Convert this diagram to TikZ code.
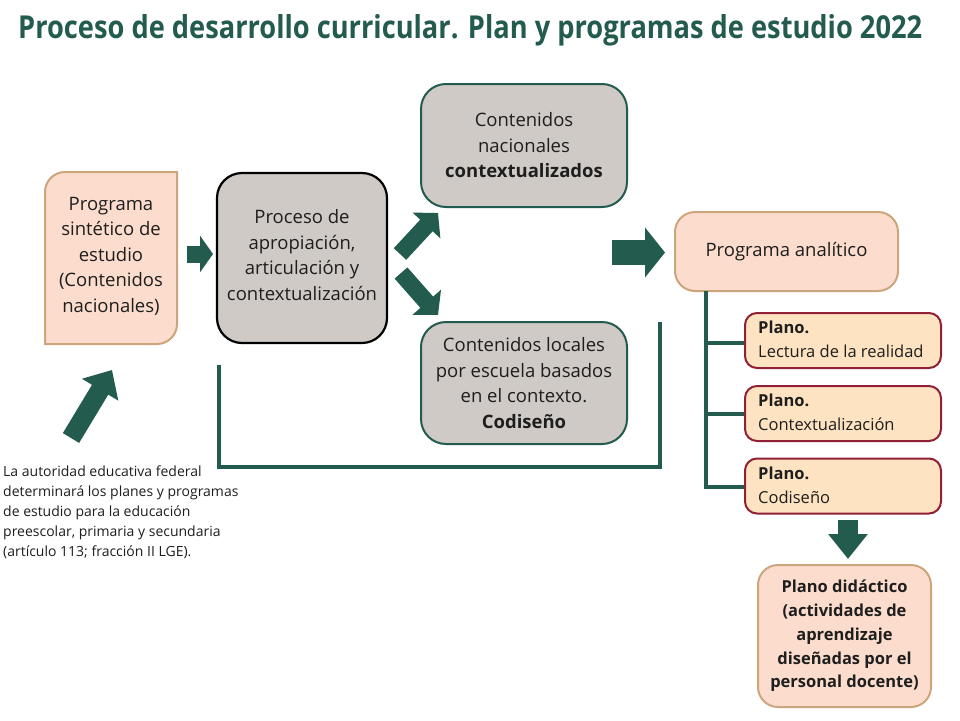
\documentclass[tikz,border=0pt]{standalone}
\usepackage{fontspec}
\setmainfont{Open Sans}
\usepackage{graphicx}
\usetikzlibrary{arrows.meta}
\definecolor{gob}{RGB}{35,91,78}
\definecolor{salmon}{RGB}{252,221,205}
\definecolor{tan}{RGB}{205,165,125}
\definecolor{grisf}{RGB}{207,202,197}
\definecolor{planof}{RGB}{253,227,193}
\definecolor{guinda}{RGB}{145,32,55}
\definecolor{txt}{RGB}{30,30,30}
\tikzset{
  bodyfont/.style={font=\fontsize{18.5}{25.5}\selectfont},
  salbox/.style={draw=tan, fill=salmon, line width=2pt, inner sep=0pt, align=center, text=txt, bodyfont},
  graybox/.style={draw=gob, fill=grisf, line width=2pt, rounded corners=25pt, inner sep=0pt, align=center, text=txt, bodyfont},
  planobox/.style={draw=guinda, fill=planof, line width=2pt, rounded corners=12pt, inner sep=0pt,
     minimum width=196pt, minimum height=55pt, text=txt, font=\fontsize{16.5}{24}\selectfont},
  greenline/.style={draw=gob, line width=4.5pt},
  blockarrow/.style n args={3}{draw=gob, line width=#1, line cap=butt,
     -{Triangle[length=#2, width=#3, fill=gob, color=gob]}},
}
\begin{document}
\begin{tikzpicture}[x=1pt,y=-1pt]
\useasboundingbox (0,0) rectangle (960,720);
\fill[white] (0,0) rectangle (960,720);

% title
\node[anchor=base west, inner sep=0pt, text=gob] (title) at (18,38)
  {\resizebox{904pt}{24pt}{\bfseries Proceso de desarrollo curricular. Plan y programas de estudio 2022}};

% box 1 (mixed corners)
\filldraw[draw=tan, fill=salmon, line width=2pt]
  (177,172) -- (65,172) arc[start angle=270, end angle=180, radius=20]
  -- (45,344) -- (157,344) arc[start angle=90, end angle=0, radius=20] -- cycle;
\node[align=center, text=txt, bodyfont, inner sep=0pt] (b1) at (111,256)
  {Programa\\sintético de\\estudio\\(Contenidos\\nacionales)};

% box 2
\node[draw=black, fill=grisf, line width=2.2pt, rounded corners=25pt, inner sep=0pt,
      minimum width=170pt, minimum height=170pt] (b2) at (302,258) {};
\node[align=center, text=txt, bodyfont, inner sep=0pt] (b2t) at (302,255)
  {Proceso de\\apropiación,\\articulación y\\contextualización};

% box 3 and 4
\node[graybox, minimum width=206pt, minimum height=123pt] (b3) at (524,145.5)
  {Contenidos\\nacionales\\\textbf{contextualizados}};
\node[graybox, minimum width=206pt, minimum height=122pt] (b4) at (524,383)
  {Contenidos locales\\por escuela basados\\en el contexto.\\\textbf{Codiseño}};

% programa analitico
\node[salbox, rounded corners=20pt, minimum width=223pt, minimum height=79pt] (pa) at (786.5,251.5)
  {Programa analítico};

% plano boxes
\node[planobox] (p1) at (843,340.5) {};
\node[anchor=west, align=left, inner sep=0pt, text=txt, font=\fontsize{16.5}{24}\selectfont] (p1t) at (758,339)
  {\textbf{Plano.}\\Lectura de la realidad};
\node[planobox] (p2) at (843,413.5) {};
\node[anchor=west, align=left, inner sep=0pt, text=txt, font=\fontsize{16.5}{24}\selectfont] (p2t) at (758,412)
  {\textbf{Plano.}\\Contextualización};
\node[planobox] (p3) at (843,486) {};
\node[anchor=west, align=left, inner sep=0pt, text=txt, font=\fontsize{16.5}{24}\selectfont] (p3t) at (758,485)
  {\textbf{Plano.}\\Codiseño};

% plano didactico
\node[salbox, rounded corners=20pt, minimum width=173pt, minimum height=142pt,
      font=\fontsize{16.5}{23.8}\selectfont\bfseries] (pd) at (844.5,636)
  {Plano didáctico\\(actividades de\\aprendizaje\\diseñadas por el\\personal docente)};

% legal text
\node[anchor=north west, align=left, inner sep=0pt, text=txt,
      font=\fontsize{14}{20}\selectfont] (lge) at (3,466)
  {La autoridad educativa federal\\determinará los planes y programas\\de estudio para la educación\\preescolar, primaria y secundaria\\(artículo 113; fracción II LGE).};

% tree lines
\coordinate (t0) at (706,291);
\coordinate (t3) at (706,487);
\draw[greenline] (t0) -- (t3) -- (p3.west |- t3);
\draw[greenline] (706,343) -- (p1.west |- 0,343);
\draw[greenline] (706,414) -- (p2.west |- 0,414);

% bracket
\coordinate (br1) at (219,365);
\coordinate (br2) at (660,322);
\draw[draw=gob, line width=4pt] (br1) -- (br1 |- 0,467) -- (br2 |- 0,467) -- (br2);

% block arrows
\coordinate (a1s) at (187,254); \coordinate (a1e) at (213,254);
\draw[blockarrow={17pt}{13pt}{36pt}] (a1s) -- (a1e);
\coordinate (a2s) at (400,254); \coordinate (a2e) at (438,213);
\draw[blockarrow={17pt}{17pt}{37pt}] (a2s) -- (a2e);
\coordinate (a3s) at (401,273); \coordinate (a3e) at (438,315);
\draw[blockarrow={17pt}{17pt}{37pt}] (a3s) -- (a3e);
\coordinate (a4s) at (612,252.5); \coordinate (a4e) at (665,252.5);
\draw[blockarrow={25pt}{20pt}{49pt}] (a4s) -- (a4e);
\coordinate (a5s) at (71,438); \coordinate (a5e) at (112,370);
\draw[blockarrow={19pt}{23pt}{41pt}] (a5s) -- (a5e);
\coordinate (a6s) at (848,520); \coordinate (a6e) at (848,559);
\draw[blockarrow={20pt}{25pt}{38pt}] (a6s) -- (a6e);
\end{tikzpicture}
\end{document}
